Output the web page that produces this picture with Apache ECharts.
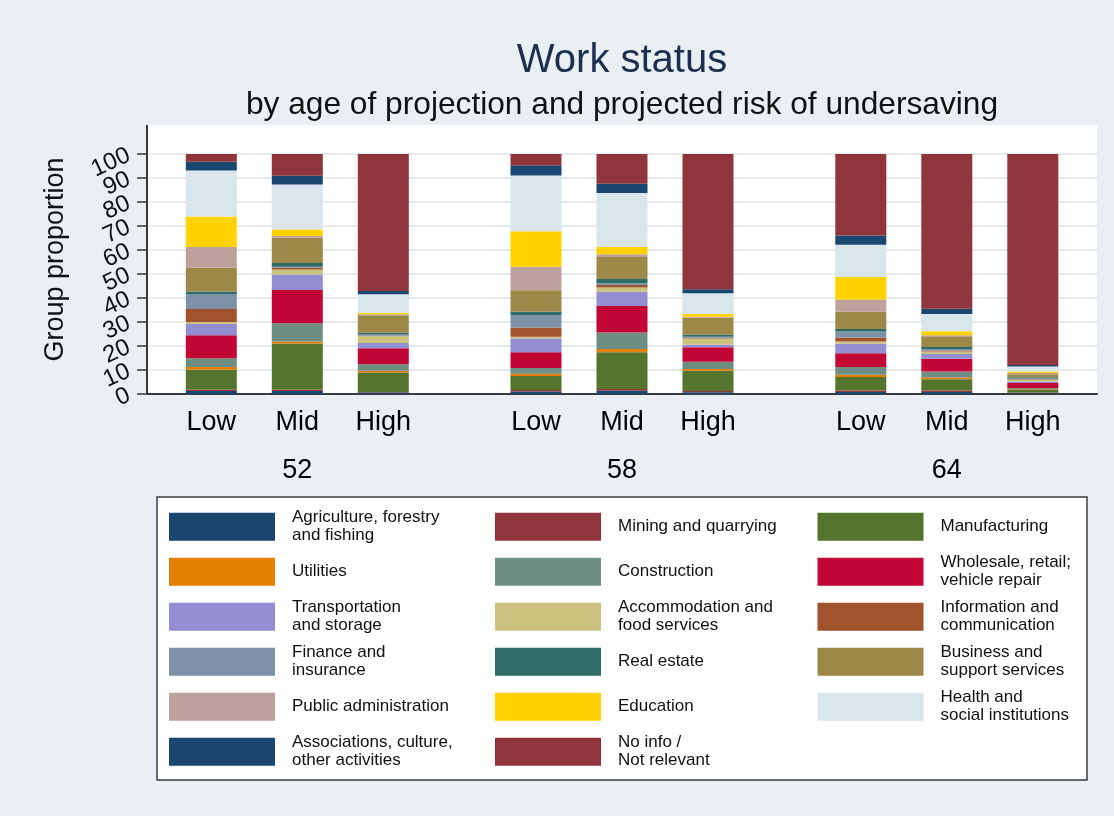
<!DOCTYPE html>
<html>
<head>
<meta charset="utf-8">
<title>Work status</title>
<script src="https://cdn.jsdelivr.net/npm/echarts@6/dist/echarts.min.js"></script>
<style>
  html, body { margin: 0; padding: 0; background: #ffffff; }
  #chart { width: 1114px; height: 816px; }
</style>
</head>
<body>
<div id="chart"></div>
<script>
// Risk groups within each age of projection
const riskGroups = ['Low', 'Mid', 'High'];
const ages = ['52', '58', '64'];

// Sectors, stacked from the bottom of each bar upwards
const sectors = [
  'Agriculture, forestry and fishing',
  'Mining and quarrying',
  'Manufacturing',
  'Utilities',
  'Construction',
  'Wholesale, retail; vehicle repair',
  'Transportation and storage',
  'Accommodation and food services',
  'Information and communication',
  'Finance and insurance',
  'Real estate',
  'Business and support services',
  'Public administration',
  'Education',
  'Health and social institutions',
  'Associations, culture, other activities',
  'No info / Not relevant'
];

const legendLabels = [
  'Agriculture, forestry\nand fishing',
  'Mining and quarrying',
  'Manufacturing',
  'Utilities',
  'Construction',
  'Wholesale, retail;\nvehicle repair',
  'Transportation\nand storage',
  'Accommodation and\nfood services',
  'Information and\ncommunication',
  'Finance and\ninsurance',
  'Real estate',
  'Business and\nsupport services',
  'Public administration',
  'Education',
  'Health and\nsocial institutions',
  'Associations, culture,\nother activities',
  'No info /\nNot relevant'
];

const sectorColors = [
  '#1a476f', '#90353b', '#55752f', '#e37e00', '#6e8e84', '#c10534',
  '#938dd2', '#cac27e', '#a0522d', '#7b92a8', '#2d6d66', '#9c8847',
  '#bfa19c', '#ffd200', '#d9e6eb', '#1a476f', '#90353b'
];

// Group proportion (%) per sector, one array per bar
const age52Low  = [1.2, 0.7, 8.2, 1.1, 3.7, 9.6, 4.7, 0.8, 5.4, 6.1, 1.2, 9.9, 8.7, 12.7, 19.1, 3.7, 3.2];
const age52Mid  = [1.2, 0.7, 19.1, 0.9, 7.6, 13.8, 6.5, 2.1, 0.7, 0.4, 1.6, 10.5, 0.7, 2.7, 18.8, 3.6, 9.1];
const age52High = [0.6, 0.2, 8.2, 0.7, 2.7, 6.7, 2.1, 3.0, 0.2, 0.4, 0.8, 7.2, 0.4, 0.7, 7.7, 1.3, 57.1];

const age58Low  = [1.0, 0.7, 5.8, 0.9, 2.4, 6.6, 5.7, 0.8, 3.8, 5.2, 1.4, 8.9, 9.8, 14.8, 23.2, 4.3, 4.7];
const age58Mid  = [1.4, 0.7, 15.3, 1.3, 6.9, 11.1, 5.9, 1.8, 1.0, 0.7, 1.8, 9.2, 1.1, 3.1, 22.5, 3.8, 12.4];
const age58High = [0.7, 0.5, 8.5, 0.7, 3.0, 6.1, 1.0, 2.6, 0.3, 0.5, 0.9, 7.0, 0.4, 1.1, 8.7, 1.6, 56.4];

const age64Low  = [0.8, 0.7, 5.6, 0.9, 3.2, 5.8, 3.9, 1.0, 1.6, 2.5, 1.1, 7.2, 5.1, 9.3, 13.5, 3.8, 34.0];
const age64Mid  = [0.8, 0.7, 4.6, 0.8, 2.5, 5.3, 2.0, 1.0, 0.4, 0.6, 0.9, 4.1, 0.8, 1.6, 7.2, 2.2, 64.5];
const age64High = [0.3, 0.2, 1.2, 0.3, 0.5, 2.1, 0.6, 0.7, 0.2, 0.4, 0.5, 1.2, 0.5, 0.7, 2.1, 0.6, 87.9];

const yTicks = [0, 10, 20, 30, 40, 50, 60, 70, 80, 90, 100];

const barsByAge = [
  [age52Low, age52Mid, age52High],
  [age58Low, age58Mid, age58High],
  [age64Low, age64Mid, age64High]
];

const FONT = '"Liberation Sans", Arial, Helvetica, sans-serif';
const AXIS_COLOR = '#3a3a3a';

// Plot frame (pixels)
const plotLeft = 147, plotRight = 1097, plotTop = 125, plotBottom = 394, scaleTop = 154;
const chartW = 1114, chartH = 816;

// One sub-grid per age group, each holding three category slots
const slotWidth = 86;
const groupCenters = [297.3, 622, 946.8];

const grids = [{
  left: plotLeft, right: chartW - plotRight, top: scaleTop, bottom: chartH - plotBottom,
  containLabel: false
}];
const xAxes = [{
  gridIndex: 0, type: 'category', data: [''],
  axisLine: { show: true, lineStyle: { color: AXIS_COLOR, width: 2 } },
  axisTick: { show: false }, axisLabel: { show: false }, splitLine: { show: false }
}];

// The crowded, tilted tick labels are split over two coincident left axes
// (even and odd tens) so none of them gets dropped as overlapping.
const yLabelStyle = {
  fontFamily: FONT, fontSize: 24, color: '#111', rotate: 25, margin: 18,
  showMinLabel: true, showMaxLabel: true, hideOverlap: false
};
const yStep = yTicks[1] - yTicks[0];
const yAxes = [
  {
    gridIndex: 0, type: 'value', position: 'left',
    min: yTicks[0], max: yTicks[yTicks.length - 1], interval: yStep,
    axisLine: { show: true, lineStyle: { color: AXIS_COLOR, width: 2 } },
    axisTick: { show: true, length: 10, lineStyle: { color: AXIS_COLOR, width: 1.5 } },
    axisLabel: Object.assign({}, yLabelStyle, {
      formatter: v => (yTicks.indexOf(v) % 2 === 0 ? String(v) : '')
    }),
    splitLine: { show: true, lineStyle: { color: '#e3ebef', width: 2 } }
  },
  {
    gridIndex: 0, type: 'value', position: 'left',
    min: yTicks[0], max: yTicks[yTicks.length - 1], interval: yStep,
    axisLine: { show: false }, axisTick: { show: false }, splitLine: { show: false },
    axisLabel: Object.assign({}, yLabelStyle, {
      formatter: v => (yTicks.indexOf(v) % 2 === 1 ? String(v) : '')
    })
  }
];

ages.forEach((age, g) => {
  grids.push({
    left: groupCenters[g] - slotWidth * 1.5, width: slotWidth * 3,
    top: scaleTop, bottom: chartH - plotBottom, containLabel: false
  });
  xAxes.push({
    gridIndex: g + 1, type: 'category', data: riskGroups,
    axisLine: { show: false }, axisTick: { show: false },
    axisLabel: { fontFamily: FONT, fontSize: 27, color: '#000', margin: 15 },
    name: age, nameLocation: 'middle', nameGap: 63,
    nameTextStyle: { fontFamily: FONT, fontSize: 27, color: '#000' }
  });
  yAxes.push({ gridIndex: g + 1, type: 'value', min: 0, max: 100, show: false });
});

const series = [];
ages.forEach((age, g) => {
  sectors.forEach((name, s) => {
    series.push({
      name: name,
      type: 'bar',
      stack: 'age' + age,
      xAxisIndex: g + 1,
      yAxisIndex: g + 2,
      barWidth: 51,
      itemStyle: { color: sectorColors[s] },
      emphasis: { disabled: true },
      data: barsByAge[g].map(bar => bar[s])
    });
  });
});

// Legend laid out as a 3-column key, one legend component per entry
const legendCols = [169, 495, 817.5];
const legendRowTop = 512.7, legendRowPitch = 45;
const swatchH = 28, lineH = 18;
const legends = sectors.map((name, i) => {
  const lines = legendLabels[i].split('\n').length;
  const textH = lines * lineH;
  const overflow = Math.max(0, (textH - swatchH) / 2);
  return {
    data: [name],
    left: legendCols[i % 3],
    top: legendRowTop + Math.floor(i / 3) * legendRowPitch - overflow,
    orient: 'vertical',
    padding: 0,
    icon: 'rect',
    itemWidth: 106,
    itemHeight: swatchH,
    selectedMode: true,
    formatter: () => legendLabels[i],
    textStyle: {
      fontFamily: FONT, fontSize: 17, lineHeight: lineH, color: '#111',
      padding: [0, 0, 0, 12]
    }
  };
});

const option = {
  backgroundColor: '#e9eff2',
  animation: false,
  color: sectorColors,
  title: [
    {
      text: 'Work status', left: 622, top: 41, textAlign: 'center', padding: 0,
      textStyle: { fontFamily: FONT, fontSize: 40, fontWeight: 'normal', color: '#1c2f50' }
    },
    {
      text: 'by age of projection and projected risk of undersaving', left: 622, top: 89, textAlign: 'center', padding: 0,
      textStyle: { fontFamily: FONT, fontSize: 31.7, fontWeight: 'normal', color: '#111' }
    }
  ],
  grid: grids,
  xAxis: xAxes,
  yAxis: yAxes,
  legend: legends,
  series: series,
  graphic: [
    {
      type: 'rect', z: -1, silent: true,
      shape: { x: plotLeft, y: plotTop, width: plotRight - plotLeft, height: plotBottom - plotTop },
      style: { fill: '#ffffff' }
    },
    {
      type: 'line', z: 5, silent: true,
      shape: { x1: plotLeft, y1: plotTop, x2: plotLeft, y2: scaleTop },
      style: { stroke: AXIS_COLOR, lineWidth: 2 }
    },
    {
      type: 'text', silent: true,
      x: 56, y: (plotTop + plotBottom) / 2, rotation: Math.PI / 2,
      style: {
        text: 'Group proportion', fontFamily: FONT, fontSize: 27, fill: '#111',
        align: 'center', verticalAlign: 'middle'
      }
    },
    {
      type: 'rect', z: -1, silent: true,
      shape: { x: 157, y: 497, width: 930, height: 283 },
      style: { fill: '#ffffff', stroke: '#3c3c3c', lineWidth: 1.5 }
    }
  ]
};

const chart = echarts.init(document.getElementById('chart'), null, { renderer: 'canvas' });
chart.setOption(option);
</script>
</body>
</html>
